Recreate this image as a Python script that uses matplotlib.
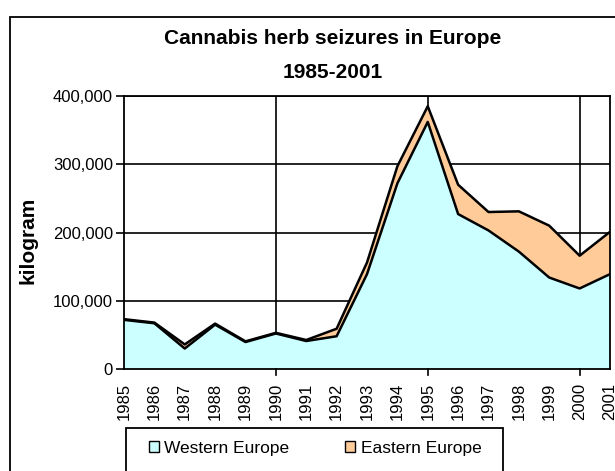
import matplotlib
matplotlib.use("Agg")
import matplotlib.pyplot as plt
from matplotlib.patches import Rectangle, Patch
from matplotlib.ticker import FuncFormatter, MultipleLocator

years = list(range(1985, 2002))
western = [72000, 67000, 30000, 65000, 39500, 52000, 41000, 48000, 139000,
           272000, 362000, 227000, 203000, 172000, 134000, 118000, 139000]
eastern = [1000, 1000, 6000, 1500, 1000, 1000, 1500, 11000, 17000,
           25000, 23000, 43000, 27000, 59000, 76000, 48000, 62000]
total = [w + e for w, e in zip(western, eastern)]

plt.rcParams['font.family'] = ['Liberation Sans', 'DejaVu Sans']

W, H = 615, 471
fig = plt.figure(figsize=(W / 100, H / 100), dpi=100)
fig.patch.set_facecolor('white')

# chart frame
fig.patches.append(Rectangle((9.5 / W, -0.05), 1.2, (H - 16.5) / H + 0.05,
                             transform=fig.transFigure, fill=False,
                             edgecolor='black', linewidth=1.3))

ax = fig.add_axes([124 / W, 1 - 369 / H, (610 - 124) / W, (369 - 96) / H])

ax.fill_between(years, 0, western, facecolor='#CCFFFF', edgecolor='none', zorder=2)
ax.fill_between(years, western, total, facecolor='#FFCC99', edgecolor='none', zorder=2)
ax.plot(years, western, color='black', linewidth=1.8, zorder=3)
ax.plot(years, total, color='black', linewidth=1.8, zorder=3)

ax.set_xlim(1985, 2001)
ax.set_ylim(0, 400000)
ax.yaxis.set_major_locator(MultipleLocator(100000))
ax.yaxis.set_major_formatter(FuncFormatter(lambda v, p: f"{int(v):,}"))
ax.set_xticks(years)
ax.set_xticklabels([str(y) for y in years], rotation=90)

for yv in [100000, 200000, 300000, 400000]:
    ax.axhline(yv, color='black', linewidth=1.2, zorder=1)
for xv in [1990, 1995, 2000]:
    ax.axvline(xv, color='black', linewidth=1.2, zorder=1)

for s in ax.spines.values():
    s.set_color('black')
    s.set_linewidth(1.3)
    s.set_zorder(4)

ax.tick_params(axis='y', direction='out', length=6, width=1.2, labelsize=12, pad=2)
ax.tick_params(axis='x', length=0, labelsize=12, pad=10)
for xv in [1990, 1995, 2000]:
    ax.plot([xv, xv], [0, -8500], color='black', linewidth=1.2,
            clip_on=False, zorder=4)

fig.text(28 / W, 1 - 240 / H, 'kilogram', rotation=90, ha='center', va='center',
         fontsize=15, fontweight='bold')

fig.text(333 / W, 1 - 39 / H, 'Cannabis herb seizures in Europe',
         ha='center', va='center', fontsize=15, fontweight='bold')
fig.text(333 / W, 1 - 72 / H, '1985-2001',
         ha='center', va='center', fontsize=15, fontweight='bold')

# legend box
fig.patches.append(Rectangle((126 / W, -0.1), (503 - 126) / W, 0.1 + (H - 428) / H,
                             transform=fig.transFigure, fill=True,
                             facecolor='white', edgecolor='black', linewidth=1.3))
handles = [Patch(facecolor='#CCFFFF', edgecolor='black', linewidth=1.0),
           Patch(facecolor='#FFCC99', edgecolor='black', linewidth=1.0)]
fig.legend(handles, ['Western Europe', 'Eastern Europe'], ncol=2,
           loc='center', bbox_to_anchor=(315 / W, 1 - 448 / H),
           frameon=False, fontsize=12.5, handlelength=0.6, handleheight=0.6,
           handletextpad=0.3, columnspacing=3.2)

fig.savefig('out.png', dpi=100)
